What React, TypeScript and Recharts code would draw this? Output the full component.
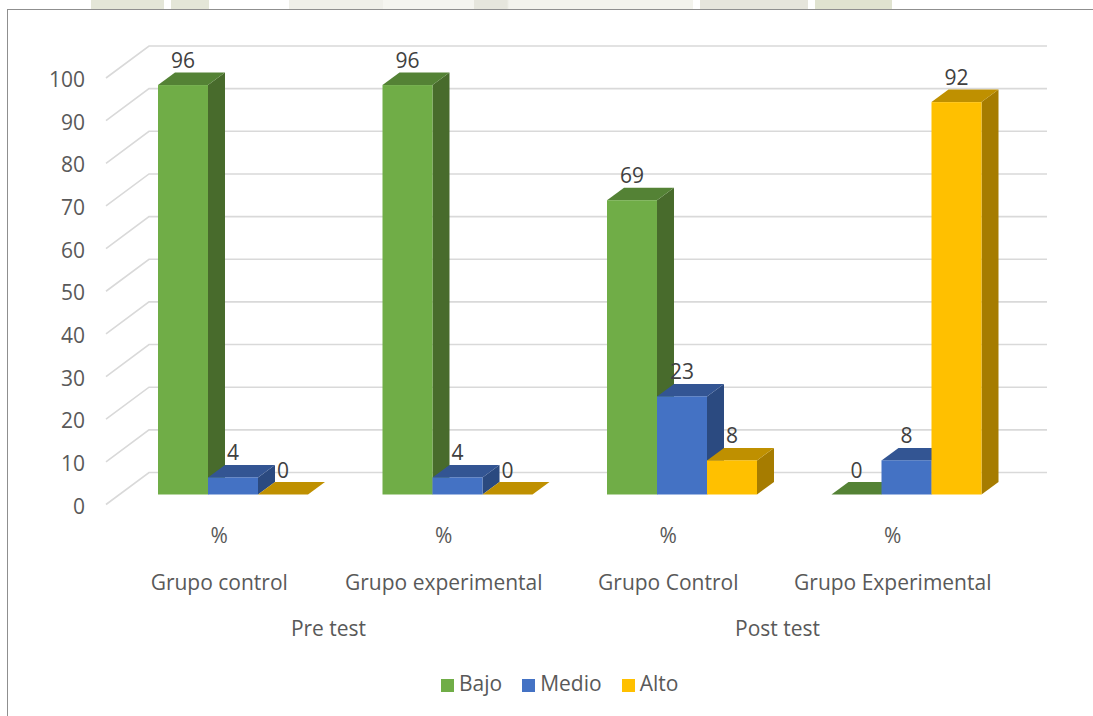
import { BarChart, Bar, XAxis, YAxis, CartesianGrid, Legend } from 'recharts';

const groups = ['Grupo control', 'Grupo experimental', 'Grupo Control', 'Grupo Experimental'];
const periods = ['Pre test', 'Pre test', 'Post test', 'Post test'];
const unitLabel = '%';
const bajo = [96, 96, 69, 0];
const medio = [4, 4, 23, 8];
const alto = [0, 0, 8, 92];
const yTicks = [0, 10, 20, 30, 40, 50, 60, 70, 80, 90, 100];

const chartData = groups.map((group, i) => ({
  group,
  period: periods[i],
  bajo: bajo[i],
  medio: medio[i],
  alto: alto[i],
}));

const FONT = '"Open Sans", sans-serif';
const FONT_SIZE = 21;
const AXIS_TEXT = '#595959';
const LABEL_TEXT = '#404040';
const DEPTH_X = 17;
const DEPTH_Y = 12.5;

// faint page background showing above the chart frame in the scan
const scanStrip = `linear-gradient(90deg,
  #fff 91px, #e4e6d8 91px, #e4e6d8 164px, #fff 164px, #fff 171px, #e4e6d8 171px, #e4e6d8 209px,
  #fff 209px, #fff 289px, #efefe9 289px, #efefe9 383px, #f5f5f0 383px, #f5f5f0 474px,
  #e6e6dd 474px, #e6e6dd 507px, #f3f3ed 509px, #f3f3ed 693px, #fff 693px, #fff 700px,
  #e6e5dc 700px, #e6e5dc 808px, #fff 808px, #fff 815px, #e0e3d0 815px, #e0e3d0 892px, #fff 892px)`;

// 3D look: front face, lid and right side
const shades: Record<string, { top: string; side: string }> = {
  '#70AD47': { top: '#548235', side: '#486B2C' },
  '#4472C4': { top: '#335593', side: '#2B4A80' },
  '#FFC000': { top: '#BF9000', side: '#A67C00' },
};

function Bar3D(props: any) {
  const { x, y, width, height, fill } = props;
  const { top, side } = shades[fill];
  const r = x + width;
  const b = y + height;
  return (
    <g>
      {height > 0 && (
        <path d={`M${r},${y} L${r + DEPTH_X},${y - DEPTH_Y} L${r + DEPTH_X},${b - DEPTH_Y} L${r},${b} Z`} fill={side} />
      )}
      <path d={`M${x},${y} L${x + DEPTH_X},${y - DEPTH_Y} L${r + DEPTH_X},${y - DEPTH_Y} L${r},${y} Z`} fill={top} />
      {height > 0 && <rect x={x} y={y} width={width} height={height} fill={fill} />}
    </g>
  );
}

// floor diagonal + back wall line for every value tick
function WallLine(props: any) {
  const { x1, y1, x2 } = props;
  return (
    <path
      d={`M${x1 - 15},${y1 + 10} L${x1 + 28},${y1 - 22} L${x2 + 28},${y1 - 22}`}
      fill="none"
      stroke="#D9D9D9"
      strokeWidth={1.6}
    />
  );
}

function GroupTick({ x, y, payload }: any) {
  return (
    <g fontFamily={FONT} fontSize={FONT_SIZE} fill={AXIS_TEXT} textAnchor="middle">
      <text x={x - 14} y={y + 40}>{unitLabel}</text>
      <text x={x - 14} y={y + 87}>{payload.value}</text>
    </g>
  );
}

function PeriodTick({ x, y, payload }: any) {
  return (
    <text x={x - 17} y={y + 33} fontFamily={FONT} fontSize={FONT_SIZE} fill={AXIS_TEXT} textAnchor="middle">
      {payload.value}
    </text>
  );
}

function ValueTick({ y, payload }: any) {
  return (
    <text x={85} y={y + 19} fontFamily={FONT} fontSize={FONT_SIZE} fill={AXIS_TEXT} textAnchor="end">
      {payload.value}
    </text>
  );
}

const barLabel = { position: 'top' as const, offset: 17, fontFamily: FONT, fontSize: FONT_SIZE, fill: LABEL_TEXT };

export default function App() {
  return (
    <div style={{ position: 'absolute', left: 0, top: 0, width: 1093, height: 716, background: '#fff', overflow: 'hidden' }}>
      <div style={{ position: 'absolute', left: 0, top: 0, width: 1093, height: 9, background: scanStrip }} />
      <div
        style={{
          position: 'absolute',
          left: 7,
          top: 9,
          right: 0,
          bottom: 0,
          borderLeft: '1px solid #8f8f8f',
          borderTop: '1px solid #8f8f8f',
        }}
      />
      <BarChart
        width={1093}
        height={716}
        data={chartData}
        barSize={50}
        barGap={0}
        margin={{ top: 68, right: 74, bottom: 43.5, left: 9 }}
        style={{ position: 'absolute', left: 0, top: 0 }}
      >
        <CartesianGrid vertical={false} horizontal={<WallLine />} />
        <XAxis dataKey="group" height={100} axisLine={false} tickLine={false} interval={0} tick={<GroupTick />} />
        <XAxis
          xAxisId="period"
          dataKey="period"
          allowDuplicatedCategory={false}
          height={50}
          axisLine={false}
          tickLine={false}
          interval={0}
          tick={<PeriodTick />}
        />
        <YAxis width={112} domain={[0, 100]} ticks={yTicks} axisLine={false} tickLine={false} interval={0} tick={<ValueTick />} />
        <Legend
          verticalAlign="bottom"
          align="left"
          iconType="square"
          iconSize={13}
          itemSorter={null}
          wrapperStyle={{ left: 441, bottom: 'auto', top: 669, width: 320, fontFamily: FONT, fontSize: FONT_SIZE }}
          formatter={(value: string) => <span style={{ color: AXIS_TEXT, marginLeft: 1, marginRight: 10 }}>{value}</span>}
        />
        <Bar dataKey="bajo" name="Bajo" fill="#70AD47" shape={<Bar3D />} label={barLabel} isAnimationActive={false} />
        <Bar dataKey="medio" name="Medio" fill="#4472C4" shape={<Bar3D />} label={barLabel} isAnimationActive={false} />
        <Bar dataKey="alto" name="Alto" fill="#FFC000" shape={<Bar3D />} label={barLabel} isAnimationActive={false} />
      </BarChart>
    </div>
  );
}
